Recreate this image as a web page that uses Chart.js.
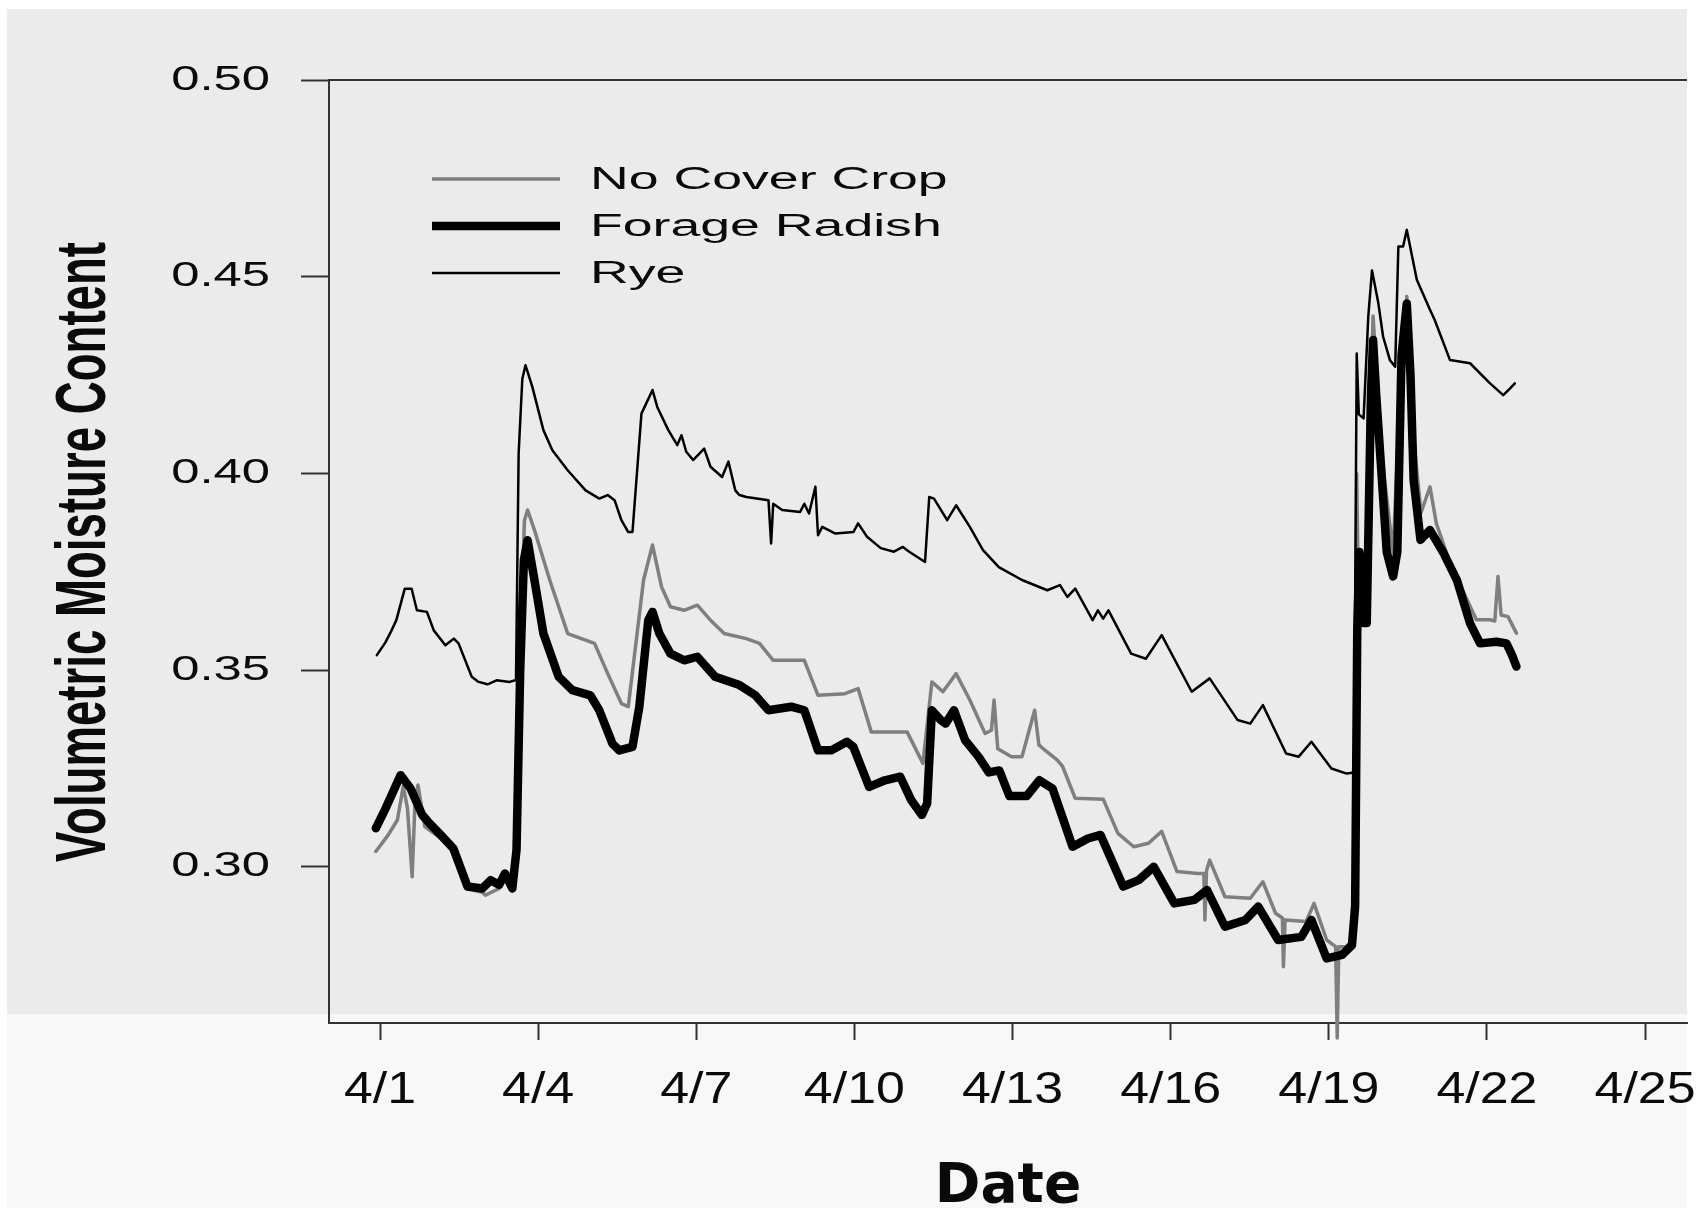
<!DOCTYPE html>
<html>
<head>
<meta charset="utf-8">
<script src="https://cdn.jsdelivr.net/npm/chart.js@4.4.1/dist/chart.umd.min.js"></script>
<style>
  html, body { margin: 0; padding: 0; background: #fff; }
  canvas { display: block; }
</style>
</head>
<body>
<canvas id="moistureChart" width="1696" height="1212"></canvas>
<script>
// day 0 = 4/1
const seriesNames = ['No Cover Crop', 'Forage Radish', 'Rye'];
const dayTicks = [0, 3, 6, 9, 12, 15, 18, 21, 24];
const dayTickLabels = ['4/1', '4/4', '4/7', '4/10', '4/13', '4/16', '4/19', '4/22', '4/25'];
const moistureTicks = [0.30, 0.35, 0.40, 0.45, 0.50];

// No Cover Crop
const noCoverDays = [-0.08, 0.15, 0.33, 0.44, 0.52, 0.61, 0.66, 0.72, 0.85, 1.18, 1.39, 1.66, 1.94, 2.00, 2.26, 2.37, 2.51, 2.59, 2.66, 2.74,
  2.80, 2.93, 3.22, 3.56, 3.90, 4.07, 4.32, 4.58, 4.71, 5.00, 5.17, 5.34, 5.51, 5.77, 6.02, 6.27, 6.53, 6.95, 7.20, 7.46,
  8.05, 8.31, 8.82, 9.07, 9.32, 10.00, 10.30, 10.47, 10.68, 10.93, 11.19, 11.48, 11.60, 11.65, 11.72, 11.98, 12.18, 12.42, 12.50, 12.61,
  12.85, 12.95, 13.19, 13.72, 14.00, 14.30, 14.58, 14.83, 15.12, 15.51, 15.63, 15.65, 15.68, 15.74, 16.03, 16.51, 16.75, 16.99, 17.12, 17.14,
  17.17, 17.57, 17.72, 17.96, 18.13, 18.16, 18.19, 18.34, 18.44, 18.50, 18.53, 18.56, 18.70, 18.84, 19.00, 19.22, 19.35, 19.48, 19.60, 19.75,
  19.92, 20.04, 20.30, 20.55, 20.80, 21.06, 21.15, 21.21, 21.27, 21.40, 21.56];
const noCoverVals = [0.3039, 0.3080, 0.3119, 0.3204, 0.3150, 0.2975, 0.3150, 0.3208, 0.3102, 0.3070, 0.3040, 0.2945, 0.2935, 0.2928, 0.2945, 0.2970, 0.2940, 0.3050, 0.3550, 0.3880,
  0.3907, 0.3856, 0.3729, 0.3593, 0.3576, 0.3568, 0.3491, 0.3415, 0.3407, 0.3729, 0.3818, 0.3712, 0.3661, 0.3652, 0.3665, 0.3627, 0.3593, 0.3580, 0.3568, 0.3525,
  0.3525, 0.3436, 0.3440, 0.3453, 0.3343, 0.3343, 0.3263, 0.3470, 0.3445, 0.3491, 0.3424, 0.3339, 0.3347, 0.3424, 0.3300, 0.3280, 0.3280, 0.3398, 0.3310, 0.3297,
  0.3271, 0.3255, 0.3174, 0.3172, 0.3085, 0.3051, 0.3060, 0.3090, 0.2988, 0.2983, 0.2983, 0.2865, 0.2990, 0.3017, 0.2924, 0.2920, 0.2962, 0.2882, 0.2870, 0.2746,
  0.2865, 0.2861, 0.2907, 0.2814, 0.2797, 0.2565, 0.2797, 0.2797, 0.2814, 0.2900, 0.4000, 0.3700, 0.3700, 0.4400, 0.4050, 0.3800, 0.4200, 0.4450, 0.4100, 0.3900,
  0.3966, 0.3873, 0.3772, 0.3700, 0.3628, 0.3628, 0.3625, 0.3738, 0.3640, 0.3636, 0.3594];

// Forage Radish
const radishDays = [-0.08, 0.09, 0.39, 0.58, 0.80, 0.91, 1.18, 1.39, 1.66, 1.94, 2.10, 2.26, 2.37, 2.51, 2.59, 2.66, 2.73, 2.80, 2.93, 3.10,
  3.39, 3.65, 3.99, 4.16, 4.41, 4.54, 4.79, 4.92, 5.09, 5.17, 5.30, 5.51, 5.77, 6.02, 6.36, 6.82, 7.12, 7.37, 7.80, 8.05,
  8.31, 8.56, 8.86, 8.98, 9.28, 9.58, 9.87, 10.08, 10.28, 10.38, 10.47, 10.64, 10.73, 10.89, 11.10, 11.36, 11.55, 11.75, 11.94, 12.27,
  12.51, 12.76, 13.14, 13.43, 13.67, 14.10, 14.39, 14.68, 15.07, 15.45, 15.69, 16.03, 16.42, 16.66, 17.04, 17.48, 17.67, 17.96, 18.25, 18.44,
  18.50, 18.54, 18.58, 18.65, 18.72, 18.80, 18.84, 18.90, 19.00, 19.10, 19.22, 19.30, 19.38, 19.48, 19.55, 19.61, 19.74, 19.92, 20.18, 20.43,
  20.68, 20.87, 21.18, 21.37, 21.47, 21.56];
const radishVals = [0.3098, 0.3144, 0.3233, 0.3199, 0.3132, 0.3115, 0.3077, 0.3047, 0.2950, 0.2945, 0.2966, 0.2954, 0.2983, 0.2945, 0.3043, 0.3500, 0.3780, 0.3830, 0.3729, 0.3593,
  0.3483, 0.3449, 0.3436, 0.3398, 0.3313, 0.3296, 0.3305, 0.3407, 0.3627, 0.3648, 0.3593, 0.3542, 0.3525, 0.3534, 0.3483, 0.3462, 0.3436, 0.3398, 0.3407, 0.3398,
  0.3296, 0.3296, 0.3318, 0.3305, 0.3203, 0.3220, 0.3229, 0.3169, 0.3132, 0.3161, 0.3398, 0.3373, 0.3364, 0.3398, 0.3322, 0.3279, 0.3240, 0.3245, 0.3180, 0.3180,
  0.3220, 0.3199, 0.3051, 0.3072, 0.3081, 0.2950, 0.2966, 0.3000, 0.2907, 0.2916, 0.2941, 0.2848, 0.2865, 0.2899, 0.2814, 0.2822, 0.2865, 0.2767, 0.2776, 0.2801,
  0.2900, 0.3600, 0.3800, 0.3620, 0.3620, 0.4200, 0.4339, 0.4200, 0.4000, 0.3800, 0.3738, 0.3800, 0.4300, 0.4432, 0.4250, 0.3983, 0.3831, 0.3856, 0.3797, 0.3729,
  0.3619, 0.3568, 0.3572, 0.3568, 0.3540, 0.3509];

// Rye
const ryeDays = [-0.06, 0.10, 0.22, 0.31, 0.47, 0.60, 0.70, 0.89, 1.02, 1.24, 1.40, 1.49, 1.74, 1.87, 2.04, 2.21, 2.46, 2.58, 2.63, 2.70,
  2.76, 2.89, 3.10, 3.27, 3.56, 3.90, 4.16, 4.32, 4.45, 4.58, 4.71, 4.79, 4.96, 5.17, 5.26, 5.47, 5.64, 5.72, 5.81, 5.94,
  6.15, 6.27, 6.49, 6.61, 6.74, 6.82, 6.95, 7.37, 7.42, 7.46, 7.63, 7.97, 8.05, 8.14, 8.26, 8.31, 8.39, 8.64, 8.98, 9.07,
  9.24, 9.50, 9.75, 9.92, 10.04, 10.34, 10.42, 10.51, 10.76, 10.93, 11.19, 11.44, 11.74, 12.18, 12.66, 12.90, 13.04, 13.19, 13.52, 13.62,
  13.72, 13.82, 14.25, 14.53, 14.83, 15.40, 15.74, 16.27, 16.51, 16.75, 17.19, 17.43, 17.67, 18.05, 18.34, 18.48, 18.53, 18.57, 18.66, 18.75,
  18.82, 18.94, 19.03, 19.16, 19.26, 19.32, 19.41, 19.48, 19.67, 19.92, 20.01, 20.30, 20.68, 21.06, 21.31, 21.44, 21.53];
const ryeVals = [0.3538, 0.3570, 0.3601, 0.3627, 0.3707, 0.3707, 0.3652, 0.3648, 0.3601, 0.3563, 0.3580, 0.3568, 0.3483, 0.3470, 0.3464, 0.3474, 0.3470, 0.3475, 0.4050, 0.4240,
  0.4275, 0.4220, 0.4110, 0.4059, 0.4008, 0.3957, 0.3936, 0.3945, 0.3932, 0.3881, 0.3851, 0.3851, 0.4152, 0.4212, 0.4169, 0.4110, 0.4072, 0.4097, 0.4055, 0.4034,
  0.4063, 0.4017, 0.3991, 0.4030, 0.3957, 0.3945, 0.3940, 0.3932, 0.3822, 0.3923, 0.3907, 0.3902, 0.3923, 0.3898, 0.3966, 0.3843, 0.3864, 0.3847, 0.3851, 0.3873,
  0.3839, 0.3810, 0.3801, 0.3813, 0.3801, 0.3775, 0.3940, 0.3936, 0.3881, 0.3919, 0.3864, 0.3805, 0.3762, 0.3729, 0.3703, 0.3716, 0.3686, 0.3707, 0.3627, 0.3652,
  0.3631, 0.3652, 0.3542, 0.3529, 0.3589, 0.3445, 0.3479, 0.3373, 0.3364, 0.3411, 0.3288, 0.3280, 0.3318, 0.3250, 0.3237, 0.3240, 0.4305, 0.4150, 0.4140, 0.4400,
  0.4516, 0.4433, 0.4348, 0.4288, 0.4271, 0.4577, 0.4577, 0.4619, 0.4492, 0.4416, 0.4390, 0.4288, 0.4280, 0.4229, 0.4199, 0.4216, 0.4229];

const toPoints = (days, vals) => days.map((d, i) => ({ x: d, y: vals[i] }));

// draw a scale's tick labels widened by k around their own anchor point
function widenLabels(scale, k) {
  if (scale._widened) return;
  const orig = scale.drawLabels;
  scale.drawLabels = function (area) {
    const c = this.ctx;
    const fill = c.fillText;
    c.fillText = function (t, x, y, mw) {
      this.save();
      this.translate(x, y);
      this.scale(k, 1);
      if (mw === undefined) fill.call(this, t, 0, 0);
      else fill.call(this, t, 0, 0, mw / k);
      this.restore();
    };
    try { orig.call(this, area); } finally { delete c.fillText; }
  };
  scale._widened = true;
}

// grey figure panel, frame line, rotated y title and legend
const figure = {
  id: 'figure',
  beforeDraw(chart) {
    const c = chart.ctx;
    c.save();
    c.fillStyle = '#ffffff';
    c.fillRect(0, 0, chart.width, chart.height);
    c.fillStyle = '#ebebeb';
    c.fillRect(7, 9, 1680, 1005);
    c.fillStyle = '#f8f8f8';
    c.fillRect(7, 1014, 1680, 194);
    c.restore();
    widenLabels(chart.scales.y, 1.45);
    widenLabels(chart.scales.x, 1.18);
  },
  afterDraw(chart) {
    const c = chart.ctx;
    const a = chart.chartArea;
    c.save();
    c.strokeStyle = '#333';
    c.lineWidth = 2;
    c.beginPath();
    c.moveTo(a.left, a.top);
    c.lineTo(a.right, a.top);
    c.stroke();

    c.fillStyle = '#0a0a0a';
    c.font = 'bold 70px "Liberation Sans", Arial, sans-serif';
    c.textAlign = 'center';
    c.textBaseline = 'middle';
    const title = 'Volumetric Moisture Content';
    const w = c.measureText(title).width;
    c.save();
    c.translate(86, 552);
    c.rotate(-Math.PI / 2);
    c.scale(620 / w, 1);
    c.fillText(title, 0, 0);
    c.restore();

    c.font = '31px "Liberation Sans", Arial, sans-serif';
    c.textAlign = 'left';
    chart.data.datasets.forEach((ds, i) => {
      const y = 179 + i * 47;
      c.strokeStyle = ds.borderColor;
      c.lineWidth = ds.borderWidth;
      c.beginPath();
      c.moveTo(432, y);
      c.lineTo(560, y);
      c.stroke();
      c.save();
      c.translate(590, y + 1);
      c.scale(1.73, 1);
      c.fillStyle = '#0a0a0a';
      c.fillText(ds.label, 0, 0);
      c.restore();
    });
    c.restore();
  }
};

const ctx = document.getElementById('moistureChart').getContext('2d');
new Chart(ctx, {
  type: 'line',
  data: {
    datasets: [{
      label: seriesNames[0],
      data: toPoints(noCoverDays, noCoverVals),
      borderColor: '#7f7f7f',
      borderWidth: 3.5,
      clip: false,
      order: 3
    }, {
      label: seriesNames[1],
      data: toPoints(radishDays, radishVals),
      borderColor: '#000000',
      borderWidth: 8.5,
      order: 2
    }, {
      label: seriesNames[2],
      data: toPoints(ryeDays, ryeVals),
      borderColor: '#000000',
      borderWidth: 2.5,
      order: 1
    }]
  },
  options: {
    responsive: false,
    devicePixelRatio: 1,
    animation: false,
    layout: { padding: { top: 80, right: 9, left: 0, bottom: 0 } },
    elements: {
      point: { radius: 0 },
      line: { tension: 0, fill: false, borderJoinStyle: 'round', borderCapStyle: 'round' }
    },
    plugins: {
      legend: { display: false },
      tooltip: { enabled: false }
    },
    scales: {
      x: {
        type: 'linear',
        min: -0.9676,
        max: 24.796,
        afterBuildTicks: (s) => { s.ticks = dayTicks.map(v => ({ value: v })); },
        afterFit: (s) => { s.height = 189; s.paddingLeft = 0; s.paddingRight = 0; },
        ticks: {
          callback: (v) => dayTickLabels[dayTicks.indexOf(v)],
          font: { family: '"Liberation Sans", Arial, sans-serif', size: 44 },
          color: '#0a0a0a',
          padding: 24,
          maxRotation: 0,
          autoSkip: false
        },
        grid: { drawOnChartArea: false, tickLength: 17, tickColor: '#333', tickWidth: 2 },
        border: { color: '#333', width: 2 },
        title: {
          display: true,
          text: 'Date',
          font: { family: '"DejaVu Sans", sans-serif', size: 55, weight: 'bold' },
          color: '#0a0a0a',
          padding: { top: 0, bottom: -9 }
        }
      },
      y: {
        type: 'linear',
        min: 0.2603,
        max: 0.50,
        afterBuildTicks: (s) => { s.ticks = moistureTicks.map(v => ({ value: v })); },
        afterFit: (s) => { s.width = 329; s.paddingTop = 0; s.paddingBottom = 0; },
        ticks: {
          callback: (v) => v.toFixed(2),
          font: { family: '"Liberation Sans", Arial, sans-serif', size: 35 },
          color: '#0a0a0a',
          padding: 31
        },
        grid: { drawOnChartArea: false, tickLength: 28, tickColor: '#333', tickWidth: 2 },
        border: { color: '#333', width: 2 }
      }
    }
  },
  plugins: [figure]
});
</script>
</body>
</html>
